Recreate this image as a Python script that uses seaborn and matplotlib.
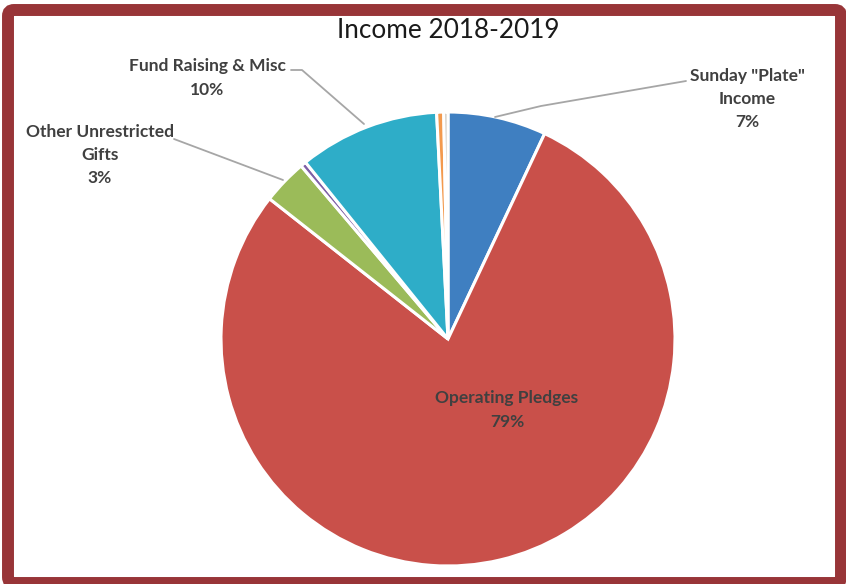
import matplotlib
matplotlib.use("Agg")
import matplotlib.pyplot as plt
import seaborn as sns
from matplotlib.patches import FancyBboxPatch

# slice values (percent of income), clockwise from 12 o'clock
categories = ['Sunday "Plate" Income', 'Operating Pledges', 'Other Unrestricted Gifts',
              'Restricted Gifts', 'Fund Raising & Misc', 'Interest', 'Other']
values = [7.0, 78.6, 3.2, 0.4, 10.0, 0.5, 0.3]
colors = ['#3F7FC1', '#C9504A', '#9BBB59', '#7E5FA6', '#2EADC8', '#F39A4E', '#C9C1B4']

# labels shown on the chart (index into categories)
label_text = {0: 'Sunday "Plate"\nIncome', 1: 'Operating Pledges',
              2: 'Other Unrestricted\nGifts', 4: 'Fund Raising & Misc'}

sns.set_theme(style="white")
plt.rcParams['font.family'] = ['Lato', 'DejaVu Sans']

W, H = 846, 584
fig = plt.figure(figsize=(W / 100, H / 100), dpi=100)
ax = fig.add_axes([0, 0, 1, 1])


def up(y):
    # image rows (top-down) -> axes y (bottom-up)
    return H - y


cx, cy, r = 448, up(339), 227
wedges, _ = ax.pie(values, colors=colors, startangle=90, counterclock=False,
                   center=(cx, cy), radius=r, frame=True,
                   wedgeprops=dict(edgecolor='white', linewidth=2.2))
ax.set_xlim(0, W)
ax.set_ylim(0, H)
ax.set_aspect('equal')
ax.axis('off')

total = sum(values)
pct = [round(v / total * 100) for v in values]

text_kw = dict(ha='center', va='center', fontsize=12.5, fontweight='bold',
               color='#404040', linespacing=1.55)
line_kw = dict(color='#A6A6A6', lw=1.3)

# label positions (image pixels) and leader lines
ax.text(747, up(99), f"{label_text[0]}\n{pct[0]}%", **text_kw)
ax.plot([495, 541, 686], [up(117), up(106), up(81)], **line_kw)

ax.text(507, up(410), f"{label_text[1]}\n{pct[1]}%", **text_kw)

ax.text(100, up(155), f"{label_text[2]}\n{pct[2]}%", **text_kw)
ax.plot([174, 283], [up(139), up(180)], **line_kw)

ax.text(207, up(78), f"{label_text[4]}\n{pct[4]}%", **text_kw)
ax.plot([291, 302, 364], [up(70), up(70), up(124)], **line_kw)

ax.text(448, up(31), "Income 2018-2019", ha='center', va='center',
        fontsize=18.8, color='#1A1A1A')

# dark red frame around the picture
frame = FancyBboxPatch((8, up(583)), 833, 573,
                       boxstyle="round,pad=0,rounding_size=6",
                       fill=False, edgecolor='#983538', linewidth=8.6,
                       transform=ax.transData, clip_on=False)
ax.add_patch(frame)

fig.savefig("out.png", dpi=100)
